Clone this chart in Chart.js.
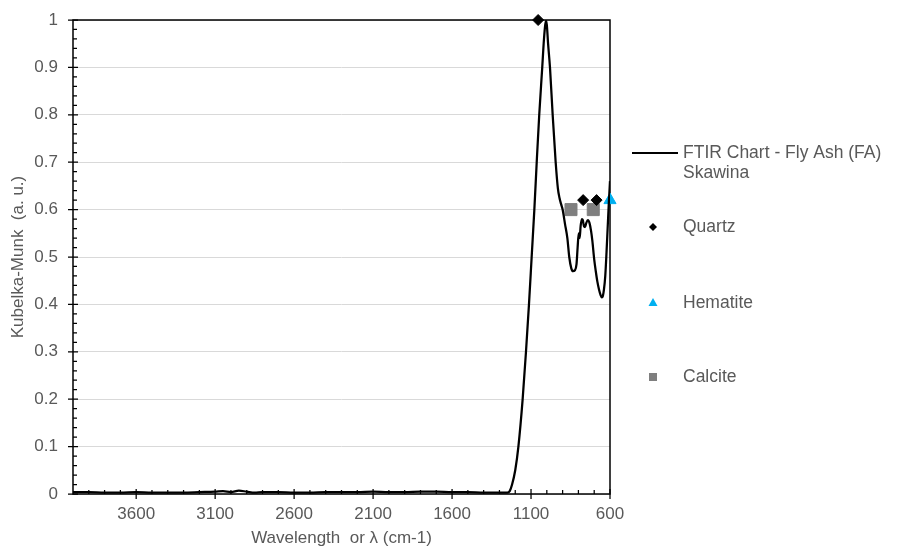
<!DOCTYPE html>
<html lang="en">
<head>
  <meta charset="UTF-8" />
  <title>FTIR Chart - Fly Ash (FA) Skawina</title>
  <script src="https://cdn.jsdelivr.net/npm/chart.js@4.4.0"></script>
  <style>
    body {
      margin: 0;
      background: #fff;
    }

    .chart-container {
      position: relative;
      width: 906px;
      height: 552px;
    }
  </style>
</head>
<body>
  <div class="chart-container">
    <canvas id="ftirChart"></canvas>
  </div>

  <script>
    // spectrum (wavenumber cm-1, Kubelka-Munk a.u.)
    const wavenumbers = [
      4000, 3900, 3800, 3700, 3600, 3500, 3400, 3300, 3200, 3100, 3050, 3000,
      2950, 2900, 2850, 2800, 2700, 2600, 2500, 2400, 2300, 2200, 2100, 2000,
      1900, 1800, 1700, 1600, 1500, 1400, 1300, 1250, 1235, 1220, 1200, 1180,
      1153, 1132, 1113, 1096, 1079, 1064, 1048, 1029, 1018, 1010, 1005, 1000,
      992, 980, 963, 944, 930, 920, 910, 900, 885, 870, 858, 845, 835, 822,
      812, 805, 798, 792, 786, 778, 772, 765, 758, 750, 740, 730, 720, 712,
      700, 690, 680, 670, 660, 652, 645, 638, 630, 622, 615, 608, 600
    ];
    const kubelkaMunk = [
      0.004, 0.004, 0.003, 0.003, 0.004, 0.003, 0.003, 0.003, 0.004, 0.005, 0.006, 0.004,
      0.007, 0.005, 0.003, 0.004, 0.004, 0.003, 0.003, 0.004, 0.004, 0.004, 0.005, 0.004,
      0.004, 0.005, 0.005, 0.004, 0.004, 0.003, 0.003, 0.003, 0.006, 0.02, 0.05, 0.10,
      0.20, 0.30, 0.40, 0.50, 0.60, 0.70, 0.80, 0.90, 0.96, 0.99, 0.998, 0.99,
      0.95, 0.90, 0.80, 0.70, 0.645, 0.625, 0.612, 0.60, 0.57, 0.54, 0.50, 0.476, 0.47, 0.472,
      0.485, 0.52, 0.55, 0.54, 0.565, 0.58, 0.578, 0.565, 0.563, 0.572, 0.578, 0.572, 0.555, 0.535,
      0.495, 0.47, 0.448, 0.432, 0.42, 0.415, 0.418, 0.432, 0.46, 0.51, 0.56, 0.61, 0.66
    ];

    const quartzX = [1055, 770, 685];
    const quartzY = [1, 0.62, 0.62];
    const hematiteX = [600];
    const hematiteY = [0.62];
    const calciteX = [847, 706];
    const calciteY = [0.6, 0.6];

    const xTicks = [600, 1100, 1600, 2100, 2600, 3100, 3600];
    const yTicks = [0, 0.1, 0.2, 0.3, 0.4, 0.5, 0.6, 0.7, 0.8, 0.9, 1];

    const FONT = "'Liberation Sans', Arial, sans-serif";
    const TEXT_COLOR = '#595959';

    function toPoints(xs, ys) {
      return xs.map((x, i) => ({ x: x, y: ys[i] }));
    }

    // plot box plus excel style ticks: major cross the axis, minor sit inside
    const axisFrame = {
      id: 'axisFrame',
      beforeDatasetsDraw(chart) {
        const { ctx, chartArea: a, scales: { x, y } } = chart;
        ctx.save();
        ctx.strokeStyle = '#000';
        ctx.lineWidth = 1.5;
        ctx.strokeRect(a.left, a.top, a.right - a.left, a.bottom - a.top);

        ctx.lineWidth = 1.25;
        ctx.beginPath();
        for (let v = 700; v < 4000; v += 100) {
          if (xTicks.includes(v)) continue;
          const px = x.getPixelForValue(v);
          ctx.moveTo(px, a.bottom);
          ctx.lineTo(px, a.bottom - 4);
        }
        xTicks.forEach(v => {
          const px = x.getPixelForValue(v);
          ctx.moveTo(px, a.bottom - 5);
          ctx.lineTo(px, a.bottom + 5);
        });
        for (let i = 1; i < 50; i++) {
          if (i % 5 === 0) continue;
          const py = y.getPixelForValue(i * 0.02);
          ctx.moveTo(a.left, py);
          ctx.lineTo(a.left + 4, py);
        }
        yTicks.forEach(v => {
          const py = y.getPixelForValue(v);
          ctx.moveTo(a.left - 5, py);
          ctx.lineTo(a.left + 5, py);
        });
        ctx.stroke();
        ctx.restore();
      }
    };

    // legend spaced like the excel one (entries spread evenly down the side)
    const sideLegend = {
      id: 'sideLegend',
      afterDraw(chart) {
        const { ctx, chartArea: a } = chart;
        const x0 = a.right + 22;
        const mx = a.right + 43;
        const tx = a.right + 73;
        const top = a.top;
        ctx.save();
        ctx.font = '17.5px ' + FONT;
        ctx.fillStyle = TEXT_COLOR;
        ctx.textBaseline = 'middle';
        ctx.textAlign = 'left';

        ctx.strokeStyle = '#000';
        ctx.lineWidth = 2;
        ctx.beginPath();
        ctx.moveTo(x0, top + 133);
        ctx.lineTo(x0 + 46, top + 133);
        ctx.stroke();
        ctx.fillText('FTIR Chart - Fly Ash (FA)', tx, top + 133);
        ctx.fillText('Skawina', tx, top + 153);

        // Quartz
        let cy = top + 207;
        ctx.fillStyle = '#000';
        ctx.beginPath();
        ctx.moveTo(mx - 4, cy);
        ctx.lineTo(mx, cy - 4);
        ctx.lineTo(mx + 4, cy);
        ctx.lineTo(mx, cy + 4);
        ctx.closePath();
        ctx.fill();
        ctx.fillStyle = TEXT_COLOR;
        ctx.fillText('Quartz', tx, cy);

        // Hematite
        cy = top + 283;
        ctx.fillStyle = '#00b0f0';
        ctx.beginPath();
        ctx.moveTo(mx, cy - 5);
        ctx.lineTo(mx + 4.5, cy + 3);
        ctx.lineTo(mx - 4.5, cy + 3);
        ctx.closePath();
        ctx.fill();
        ctx.fillStyle = TEXT_COLOR;
        ctx.fillText('Hematite', tx, cy);

        // Calcite
        cy = top + 357;
        ctx.fillStyle = '#7f7f7f';
        ctx.fillRect(mx - 4, cy - 4, 8, 8);
        ctx.fillStyle = TEXT_COLOR;
        ctx.fillText('Calcite', tx, cy);
        ctx.restore();
      }
    };

    document.addEventListener('DOMContentLoaded', function () {
      const ctx = document.getElementById('ftirChart').getContext('2d');

      new Chart(ctx, {
        type: 'scatter',
        data: {
          datasets: [
            {
              label: 'FTIR Chart - Fly Ash (FA) Skawina',
              data: toPoints(wavenumbers, kubelkaMunk),
              showLine: true,
              borderColor: '#000',
              backgroundColor: '#000',
              borderWidth: 2.25,
              pointRadius: 0,
              cubicInterpolationMode: 'monotone',
              order: 0
            },
            {
              label: 'Quartz',
              data: toPoints(quartzX, quartzY),
              pointStyle: 'rectRot',
              pointRadius: 5.5,
              backgroundColor: '#000',
              borderColor: '#000',
              borderWidth: 1,
              clip: false,
              order: 1
            },
            {
              label: 'Hematite',
              data: toPoints(hematiteX, hematiteY),
              pointStyle: 'triangle',
              pointRadius: 7,
              backgroundColor: '#00b0f0',
              borderColor: '#00b0f0',
              borderWidth: 1,
              clip: false,
              order: 2
            },
            {
              label: 'Calcite',
              data: toPoints(calciteX, calciteY),
              pointStyle: 'rect',
              pointRadius: 8.5,
              backgroundColor: '#7f7f7f',
              borderColor: '#7f7f7f',
              borderWidth: 1,
              clip: false,
              order: 3
            }
          ]
        },
        options: {
          responsive: true,
          maintainAspectRatio: false,
          animation: false,
          layout: {
            padding: { top: 20, right: 296, bottom: 0, left: 0 }
          },
          scales: {
            x: {
              type: 'linear',
              reverse: true,
              min: 600,
              max: 4000,
              afterBuildTicks: scale => { scale.ticks = xTicks.map(v => ({ value: v })); },
              afterFit: scale => { scale.height = 58; },
              grid: { display: false, drawTicks: false },
              border: { display: false },
              ticks: {
                color: TEXT_COLOR,
                font: { family: FONT, size: 17 },
                padding: 10,
                maxRotation: 0,
                autoSkip: false,
                callback: v => String(v)
              },
              title: {
                display: true,
                text: 'Wavelength  or λ (cm-1)',
                color: TEXT_COLOR,
                font: { family: FONT, size: 17 },
                padding: { top: 0, bottom: 3 }
              }
            },
            y: {
              min: 0,
              max: 1,
              afterBuildTicks: scale => { scale.ticks = yTicks.map(v => ({ value: v })); },
              afterFit: scale => { scale.width = 73; },
              // tick marks are drawn by axisFrame, these only push the labels out
              grid: { color: '#d9d9d9', lineWidth: 1, drawTicks: true, tickLength: 11, tickColor: 'rgba(0,0,0,0)' },
              border: { display: false },
              ticks: {
                color: TEXT_COLOR,
                font: { family: FONT, size: 17 },
                padding: 4,
                callback: v => String(+v.toFixed(1))
              },
              title: {
                display: true,
                text: 'Kubelka-Munk  (a. u.)',
                color: TEXT_COLOR,
                font: { family: FONT, size: 17 },
                padding: { top: 8, bottom: 0 }
              }
            }
          },
          plugins: {
            legend: { display: false },
            tooltip: { enabled: false }
          }
        },
        plugins: [axisFrame, sideLegend]
      });
    });
  </script>
</body>
</html>
